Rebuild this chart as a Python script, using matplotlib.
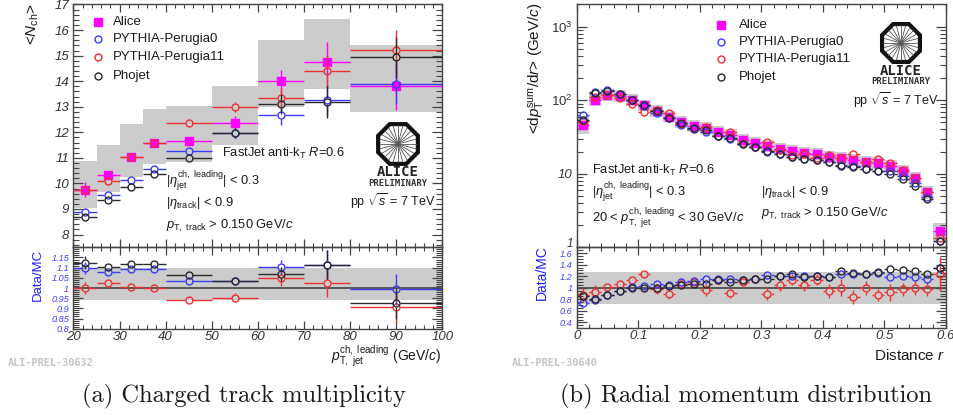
import numpy as np
import matplotlib
matplotlib.use("Agg")
import matplotlib.pyplot as plt
from matplotlib.patches import Polygon, Rectangle
from matplotlib.lines import Line2D
from matplotlib.ticker import FixedLocator, NullFormatter, FixedFormatter

plt.rcParams['font.family'] = ['Liberation Sans', 'DejaVu Sans']
plt.rcParams['mathtext.fontset'] = 'custom'
plt.rcParams['mathtext.rm'] = 'Liberation Sans'
plt.rcParams['mathtext.it'] = 'Liberation Sans:italic'
plt.rcParams['mathtext.bf'] = 'Liberation Sans:bold'
plt.rcParams['mathtext.fallback'] = 'cm'

W, H = 954, 415
# ---- left panel data
a_edges = [20, 25, 30, 35, 40, 50, 60, 70, 80, 100]
a_alice = [9.75, 10.33, 11.05, 11.6, 11.67, 12.38, 14.0, 14.75, 13.83]
a_alice_err = [0.3, 0.12, 0.1, 0.12, 0.15, 0.25, 0.45, 0.79, 0.96]
a_band_lo = [9.05, 9.65, 10.27, 10.75, 10.85, 11.5, 12.97, 13.7, 12.8]
a_band_hi = [10.88, 11.5, 12.33, 12.9, 13.03, 13.83, 15.6, 16.45, 15.42]
a_p0 = [8.87, 9.55, 10.15, 10.57, 11.28, 11.97, 12.68, 13.25, 13.9]
a_p11 = [9.75, 10.1, 11.02, 11.6, 12.38, 13.0, 13.35, 14.4, 15.22]
a_pho = [8.68, 9.35, 9.87, 10.37, 11.0, 11.97, 13.1, 13.2, 14.93]
a_mc_err = [0.03, 0.04, 0.04, 0.06, 0.08, 0.2, 0.38, 0.63, 0.8]
a_r_p0 = [1.1, 1.08, 1.093, 1.095, 1.034, 1.034, 1.103, 1.115, 0.993]
a_r_p11 = [1.0, 1.023, 1.005, 0.998, 0.943, 0.953, 1.047, 1.025, 0.905]
a_r_pho = [1.125, 1.105, 1.118, 1.118, 1.063, 1.034, 1.068, 1.115, 0.925]
a_r_err = [0.03, 0.01, 0.01, 0.01, 0.01, 0.02, 0.035, 0.07, 0.075]
a_r_band = (0.94, 1.1)
# ---- right panel data
b_edges = [0.02 * i for i in range(31)]
b_alice = [46, 101, 118, 115, 101, 85, 72, 60, 51, 45, 42, 37.5, 34, 29, 26.2, 24, 22, 20.7, 19.2, 18.6,
           17, 16.4, 15.5, 14.5, 13.9, 12.9, 11, 8.8, 5.6, 1.65]
b_band_frac = [0.33, 0.22, 0.2, 0.2, 0.2, 0.2, 0.2, 0.2, 0.2, 0.2, 0.2, 0.2, 0.2, 0.2, 0.2, 0.2, 0.2, 0.2, 0.2, 0.2,
               0.2, 0.2, 0.2, 0.2, 0.2, 0.2, 0.2, 0.2, 0.22, 0.3]
b_p0 = [63, 129.5, 135.6, 121, 100, 82.5, 68, 57, 46.4, 40.5, 36.5, 32.6, 29.3, 25.4, 22.8, 19.7, 18.3, 17.1, 16, 15.4,
        14.4, 13.3, 12.6, 11.7, 11, 10.9, 9.2, 7.5, 4.9, 1.23]
b_pho = [54, 126, 134, 121, 101, 85, 72, 58, 48.6, 42.5, 39.6, 32.9, 30.9, 25.7, 22.8, 20.7, 18.3, 16.7, 16.1, 15.5,
         14.4, 12.7, 12.4, 11.7, 10.9, 9.8, 8.5, 6.8, 4.5, 1.23]
b_p11 = [52, 109, 116, 107, 89, 69, 73.5, 67, 47.7, 41, 43.7, 33, 37, 26.4, 22.8, 26.7, 21, 18.2, 18.5, 16.3,
         18, 16.4, 18.5, 14.6, 16, 14, 11.3, 8.8, 5.7, 1.33]
b_r_p0 = [.73, .78, .87, .95, 1.01, 1.03, 1.06, 1.05, 1.1, 1.11, 1.15, 1.15, 1.16, 1.14, 1.15, 1.22, 1.2, 1.21, 1.2, 1.21,
          1.18, 1.23, 1.23, 1.24, 1.26, 1.18, 1.2, 1.18, 1.15, 1.34]
b_r_pho = [.85, .8, .88, .95, 1.0, 1.0, 1.0, 1.03, 1.05, 1.06, 1.06, 1.14, 1.1, 1.13, 1.15, 1.16, 1.2, 1.24, 1.19, 1.2,
           1.18, 1.29, 1.25, 1.24, 1.27, 1.32, 1.3, 1.29, 1.24, 1.34]
b_r_p11 = [.88, .93, 1.02, 1.07, 1.13, 1.23, .98, .89, 1.07, 1.1, .96, 1.14, .91, 1.1, 1.15, .9, 1.05, 1.14, 1.04, 1.14,
           .94, 1.0, .84, .99, .87, .92, .97, 1.0, .98, 1.24]
b_r_err_p11 = [.12, .11, .05, .04, .03, .03, .08, .08, .1, .05, .1, .06, .08, .08, .07, .12, .1, .1, .1, .09,
               .12, .15, .12, .12, .1, .15, .12, .12, .12, .3]
b_r_band = (0.72, 1.28)

C_A, C_B, C_R, C_K = '#ff00ff', '#3c3cf0', '#ee3030', '#2a2a2a'
GR = '#cccccc'
AXC = '#444444'
TXT = '#1a1a1a'

fig = plt.figure(figsize=(W / 100, H / 100), dpi=100, facecolor='white')


def mkax(x0, x1, ytop, ybot):
    return fig.add_axes([x0 / W, 1 - ybot / H, (x1 - x0) / W, (ybot - ytop) / H], facecolor='none')


ax1 = mkax(73.5, 442.3, 4.5, 247.3)
ax1r = mkax(73.5, 442.3, 247.3, 328.7)
ax2 = mkax(576.7, 945.7, 4.5, 247.3)
ax2r = mkax(576.7, 945.7, 247.3, 328.2)

ax1.set_xlim(20, 100); ax1r.set_xlim(20, 100)
ax1.set_ylim(7.5, 17); ax1r.set_ylim(0.8, 1.2)
ax2.set_xlim(0, 0.6); ax2r.set_xlim(0, 0.6)
ax2.set_yscale('log'); ax2.set_ylim(1, 2000); ax2r.set_ylim(0.3, 1.7)


def draw_series(ax, edges, y, color, yerr=None, gap=3.6, marker='o', ms=5.0, z=5, lw=1.0, fill=False):
    """ROOT-like error bars: the lines stop at the open marker."""
    for i, v in enumerate(y):
        lo, hi = edges[i], edges[i + 1]
        c = 0.5 * (lo + hi)
        px, py = ax.transData.transform((c, v))
        inv = ax.transData.inverted()
        xl = inv.transform((px - gap, py))[0]
        xr = inv.transform((px + gap, py))[0]
        yb = inv.transform((px, py - gap))[1]
        yt = inv.transform((px, py + gap))[1]
        ax.plot([lo, xl], [v, v], color=color, lw=lw, zorder=z, solid_capstyle='butt')
        ax.plot([xr, hi], [v, v], color=color, lw=lw, zorder=z, solid_capstyle='butt')
        if yerr is not None:
            e = yerr[i]
            if v + e > yt:
                ax.plot([c, c], [yt, v + e], color=color, lw=lw, zorder=z, solid_capstyle='butt')
            if v - e < yb:
                ax.plot([c, c], [v - e, yb], color=color, lw=lw, zorder=z, solid_capstyle='butt')
        ax.plot([c], [v], marker=marker, ms=ms, mew=1.0, mec=color,
                mfc=color if fill else 'none', ls='none', zorder=z + 0.1)


def ticks(ax, xmaj, xmin, ymaj, ymin, xl, xm, yl, ym):
    ax.set_xticks(xmaj); ax.set_xticks(xmin, minor=True)
    ax.set_yticks(ymaj); ax.set_yticks(ymin, minor=True)
    ax.tick_params(axis='x', which='major', direction='in', length=xl, width=0.9, color=AXC, top=True, bottom=True)
    ax.tick_params(axis='x', which='minor', direction='in', length=xm, width=0.8, color=AXC, top=True, bottom=True)
    ax.tick_params(axis='y', which='major', direction='in', length=yl, width=0.9, color=AXC, left=True, right=True)
    ax.tick_params(axis='y', which='minor', direction='in', length=ym, width=0.8, color=AXC, left=True, right=True)
    for s in ax.spines.values():
        s.set_color(AXC); s.set_linewidth(1.0)


a_xmaj = list(range(20, 101, 10)); a_xmin = list(range(20, 101, 2))
ticks(ax1, a_xmaj, a_xmin, list(range(8, 18)), [7.6 + 0.2 * i for i in range(48)], 6, 3, 7.5, 4)
ticks(ax1r, a_xmaj, a_xmin, [.8, .85, .9, .95, 1, 1.05, 1.1, 1.15], [.8 + .01 * i for i in range(41)], 6, 3, 7.5, 4)
b_xmaj = [0, .1, .2, .3, .4, .5, .6]; b_xmin = [.02 * i for i in range(31)]
log_min = [m * 10 ** d for d in range(0, 4) for m in range(2, 10) if m * 10 ** d < 2000]
ticks(ax2, b_xmaj, b_xmin, [1, 10, 100, 1000], log_min, 6, 3, 7.5, 4)
ax2.yaxis.set_minor_locator(FixedLocator(log_min)); ax2.yaxis.set_minor_formatter(NullFormatter())
ax2.yaxis.set_major_locator(FixedLocator([1, 10, 100, 1000]))
ticks_r = [.4, .6, .8, 1, 1.2, 1.4, 1.6]
ticks(ax2r, b_xmaj, b_xmin, ticks_r, [.3 + .05 * i for i in range(29)], 6, 3, 7.5, 4)

# tick labels
ax1.set_xticklabels([])
ax2.set_xticklabels([])
ax1.set_yticklabels([str(v) for v in range(8, 18)], fontstyle='italic', fontsize=9.5, color='#333333')
ax2.yaxis.set_major_formatter(FixedFormatter(['', '10', r'$\mathit{10^{2}}$', r'$\mathit{10^{3}}$']))
for t in ax2.get_yticklabels():
    t.set_fontstyle('italic'); t.set_fontsize(9.5); t.set_color('#333333')
ax1r.set_yticklabels(['0.8', '0.85', '0.9', '0.95', '1', '1.05', '1.1', '1.15'], fontstyle='italic', fontsize=6.6, color='#4040ff')
ax2r.set_yticklabels(['0.4', '0.6', '0.8', '1', '1.2', '1.4', '1.6'], fontstyle='italic', fontsize=6.6, color='#4040ff')
ax1r.set_xticklabels([str(v) for v in a_xmaj], fontstyle='italic', fontsize=9.5, color='#333333')
ax2r.set_xticklabels(['0', '0.1', '0.2', '0.3', '0.4', '0.5', '0.6'], fontstyle='italic', fontsize=9.5, color='#333333')
for a in (ax1, ax1r, ax2, ax2r):
    a.tick_params(axis='y', which='major', pad=3)
    a.tick_params(axis='x', which='major', pad=1.5)

# bands
for i in range(9):
    ax1.add_patch(Rectangle((a_edges[i], a_band_lo[i]), a_edges[i + 1] - a_edges[i], a_band_hi[i] - a_band_lo[i],
                            fc=GR, ec='none', zorder=1))
for i in range(30):
    lo = b_alice[i] / (1 + b_band_frac[i]); hi = b_alice[i] * (1 + b_band_frac[i])
    ax2.add_patch(Rectangle((b_edges[i], lo), 0.02, hi - lo, fc=GR, ec='none', zorder=1))
ax1r.axhspan(*a_r_band, color=GR, lw=0, zorder=1)
ax2r.axhspan(*b_r_band, color=GR, lw=0, zorder=1)
ax1r.axhline(1, color='#444444', lw=1.2, zorder=2)
ax2r.axhline(1, color='#444444', lw=1.2, zorder=2)

# series: left
draw_series(ax1, a_edges, a_alice, C_A, a_alice_err, gap=0, marker='s', ms=5.4, z=3, fill=True)
draw_series(ax1, a_edges, a_p0, C_B, a_mc_err, z=4)
draw_series(ax1, a_edges, a_p11, C_R, a_mc_err, z=5)
draw_series(ax1, a_edges, a_pho, C_K, a_mc_err, z=6)
draw_series(ax1r, a_edges, a_r_p11, C_R, a_r_err, z=4)
draw_series(ax1r, a_edges, a_r_p0, C_B, a_r_err, z=5)
draw_series(ax1r, a_edges, a_r_pho, C_K, a_r_err, z=6)
# series: right
zero = [0.0] * 30
draw_series(ax2, b_edges, b_alice, C_A, zero, gap=0, marker='s', ms=5.4, z=3, fill=True)
draw_series(ax2, b_edges, b_p11, C_R, [0.06 * v for v in b_p11], z=4)
draw_series(ax2, b_edges, b_p0, C_B, zero, z=5)
draw_series(ax2, b_edges, b_pho, C_K, zero, z=6)
draw_series(ax2r, b_edges, b_r_p11, C_R, b_r_err_p11, z=4)
draw_series(ax2r, b_edges, b_r_p0, C_B, [0.02] * 30, z=5)
draw_series(ax2r, b_edges, b_r_pho, C_K, [0.02] * 30, z=6)


def T(x, y, s, size=9.3, ha='left', va='center', color=TXT, **kw):
    return fig.text(x / W, 1 - y / H, s, fontsize=size, ha=ha, va=va, color=color, **kw)


def legend(xm, xt, ys):
    names = ['Alice', 'PYTHIA-Perugia0', 'PYTHIA-Perugia11', 'Phojet']
    cols = [C_A, C_B, C_R, C_K]
    for n, c, y, m in zip(names, cols, ys, 'sooo'):
        fig.add_artist(Line2D([xm / W], [1 - y / H], transform=fig.transFigure, marker=m, ms=5.5 if m == 's' else 5,
                              mfc=c if m == 's' else 'none', mec=c, mew=1.0, ls='none'))
        T(xt, y, n, 9.5)


def logo(cx, cy, r, ytxt1, ytxt2):
    ang = np.deg2rad(22.5 + 45 * np.arange(8))
    pts = [((cx + r * np.cos(a)) / W, 1 - (cy + r * np.sin(a)) / H) for a in ang]
    fig.add_artist(Polygon(pts, closed=True, fc='white', ec='#111111', lw=3.0, transform=fig.transFigure, zorder=8))
    for a in np.deg2rad(np.arange(0, 360, 15)):
        fig.add_artist(Line2D([cx / W, (cx + (r - 3) * np.cos(a)) / W],
                              [1 - cy / H, 1 - (cy + (r - 3) * np.sin(a)) / H],
                              color='#555555', lw=0.6, transform=fig.transFigure, zorder=9))
    T(cx, ytxt1, 'ALICE', 10, ha='center', family='DejaVu Sans Mono', fontweight='bold', color='#222222')
    T(cx, ytxt2, 'PRELIMINARY', 6.4, ha='center', family='DejaVu Sans Mono', fontweight='bold', color='#333333')


legend(98, 113, [22, 39, 57, 76])
legend(721, 739, [25, 42, 59, 77])
logo(398, 144, 21.5, 172, 183)
logo(901, 43, 20.5, 71, 82)

eta_jet = r'$|\eta_{\mathrm{jet}}^{\mathrm{ch,\ leading}}|$ < 0.3'
eta_trk = r'$|\eta_{\mathrm{track}}|$ < 0.9'
pt_trk = r'$p_{\mathrm{T,\ track}}$ > 0.150 GeV/$c$'
fj = r'FastJet anti-k$_{\mathrm{T}}$ $R$=0.6'
pps = r'pp $\sqrt{s}$ = 7 TeV'

T(222, 153, fj); T(166, 181, eta_jet); T(166, 203, eta_trk); T(166, 226, pt_trk); T(350, 201, pps, 9)
T(592, 170, fj); T(592, 192, eta_jet)
T(592, 218, r'20 < $p_{\mathrm{T,\ jet}}^{\mathrm{ch,\ leading}}$ < 30 GeV/$c$')
T(761, 192, eta_trk); T(761, 214, pt_trk); T(853, 100, pps, 9)

T(573, 244, '1', 8.5, ha='right', fontstyle='italic', color='#333333')
T(33, 24, r'<$N_{\mathrm{ch}}$>', 11, ha='center', rotation=90)
T(38, 275, 'Data/MC', 9.5, ha='center', rotation=90, color='#2020ff')
T(537, 68, r'<d$p_{\mathrm{T}}^{\mathrm{sum}}$/d$r$> (GeV/$c$)', 11, ha='center', rotation=90)
T(541.5, 273, 'Data/MC', 10, ha='center', rotation=90, color='#2020ff')
T(442, 361, r'$p_{\mathrm{T,\ jet}}^{\mathrm{ch,\ leading}}$ (GeV/$c$)', 10, ha='right', va='baseline')
T(945, 355, r'Distance $r$', 11, ha='right')
T(8, 363, 'ALI-PREL-30632', 7.4, family='DejaVu Sans Mono', fontweight='bold', color='#c4c4c4')
T(512, 363, 'ALI-PREL-30640', 7.4, family='DejaVu Sans Mono', fontweight='bold', color='#c4c4c4')
T(243.5, 396, '(a) Charged track multiplicity', 17.6, ha='center', family='cmr10')
T(746.5, 396, '(b) Radial momentum distribution', 17.6, ha='center', family='cmr10')

fig.savefig('out.png', dpi=100)
